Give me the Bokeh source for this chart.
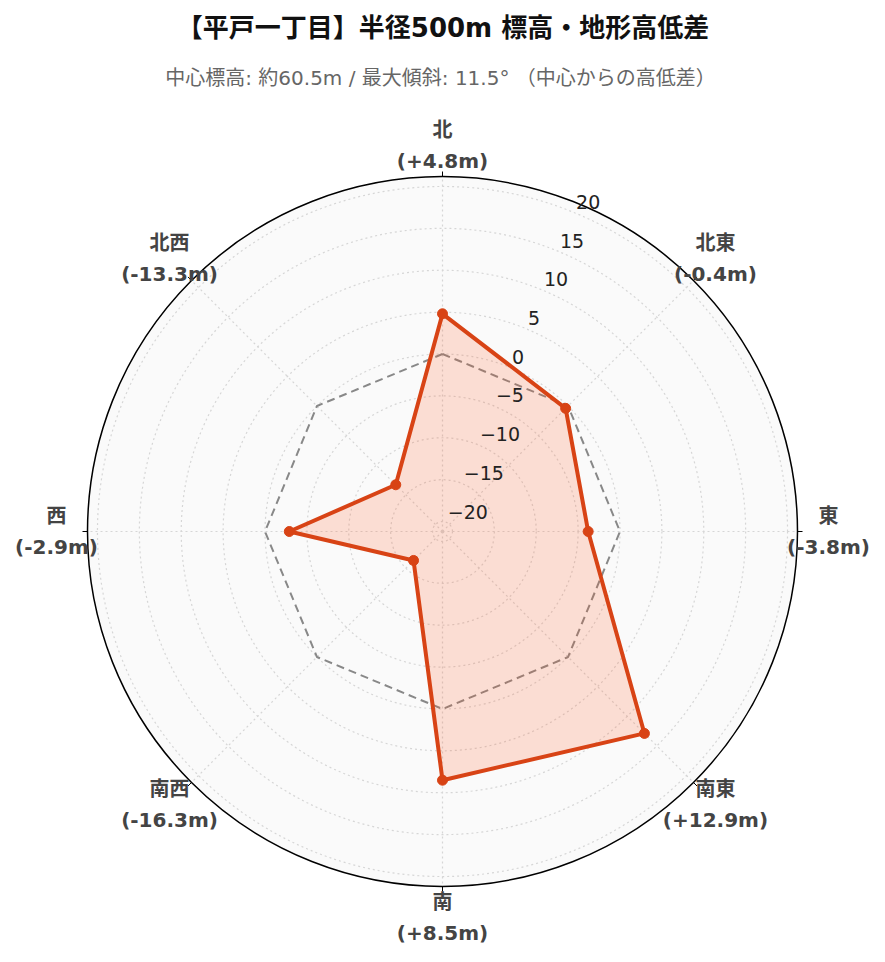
import math
from bokeh.plotting import figure
from bokeh.models import Range1d
from bokeh.core.properties import value
from bokeh.embed import file_html
from bokeh.resources import INLINE

# ---- data ----
directions = ["北", "北東", "東", "南東", "南", "南西", "西", "北西"]
angles_deg = [0, 45, 90, 135, 180, 225, 270, 315]
diffs = [4.8, -0.4, -3.8, 12.9, 8.5, -16.3, -2.9, -13.3]
radial_ticks = [-20, -15, -10, -5, 0, 5, 10, 15, 20]
radial_range = [-21.19, 21.19]
title_text = "【平戸一丁目】半径500m 標高・地形高低差"
subtitle_text = "中心標高: 約60.5m / 最大傾斜: 11.5° （中心からの高低差）"

# ---- geometry (data units = pixels) ----
R = 355.0
W, H = 869, 946
cx_canvas, cy_canvas = 442, 531

def rad(v):
    return (v - radial_range[0]) / (radial_range[1] - radial_range[0]) * R

def pol(r, deg):
    a = math.radians(deg)
    return r * math.sin(a), r * math.cos(a)

FONT = value("'DejaVu Sans', 'Noto Sans CJK JP', sans-serif")

p = figure(width=W, height=H, output_backend="svg", toolbar_location=None,
           x_range=Range1d(-cx_canvas, W - cx_canvas),
           y_range=Range1d(-(H - cy_canvas), cy_canvas),
           x_axis_type=None, y_axis_type=None, min_border=0,
           outline_line_color=None, background_fill_color="white",
           border_fill_color="white")
p.grid.visible = False

# background disk
p.circle([0], [0], radius=R, fill_color="#fafafa", line_color=None)

# circular grid
grid_r = [rad(t) for t in radial_ticks]
p.circle([0] * len(grid_r), [0] * len(grid_r), radius=grid_r, fill_color=None,
         line_color="#d6d6d6", line_width=1.2, line_dash="2 3")

# spokes
sx = [pol(R, a)[0] for a in angles_deg]
sy = [pol(R, a)[1] for a in angles_deg]
p.segment([0] * 8, [0] * 8, sx, sy, line_color="#d6d6d6", line_width=1.2, line_dash="2 3")

# reference (0 m) octagon
ref = [pol(rad(0), a) for a in angles_deg + [angles_deg[0]]]
p.line([q[0] for q in ref], [q[1] for q in ref], line_color="#888888",
       line_width=2, line_dash="8 5")

# data polygon
pts = [pol(rad(v), a) for v, a in zip(diffs, angles_deg)]
xs = [q[0] for q in pts]
ys = [q[1] for q in pts]
p.patch(xs, ys, fill_color="#ff5722", fill_alpha=0.18, line_color=None)
p.line(xs + [xs[0]], ys + [ys[0]], line_color="#d84315", line_width=4, line_join="round")
p.scatter(xs, ys, size=10, fill_color="#d84315", line_color="#d84315")

# outer circle and ticks
p.circle([0], [0], radius=R, fill_color=None, line_color="black", line_width=1.5)
t0 = [pol(R, a) for a in angles_deg]
t1 = [pol(R + 5, a) for a in angles_deg]
p.segment([q[0] for q in t0], [q[1] for q in t0], [q[0] for q in t1], [q[1] for q in t1],
          line_color="black", line_width=1)

# radial tick labels along 22.5 deg
ax = 22.5
ua = (math.sin(math.radians(ax)), math.cos(math.radians(ax)))
up = (math.cos(math.radians(ax)), -math.sin(math.radians(ax)))
lx, ly, lt = [], [], []
for t in radial_ticks:
    al = rad(t) + 10.5
    lx.append(al * ua[0] - 2.7 * up[0])
    ly.append(al * ua[1] - 2.7 * up[1])
    lt.append(str(t).replace("-", "\u2212"))
p.text(lx, ly, text=lt, text_font=FONT, text_font_size="19px", text_color="#222222",
       text_align="left", text_baseline="middle")

# angular labels
D = 386
nx, ny, vx, vy, vt = [], [], [], [], []
for name, a, d in zip(directions, angles_deg, diffs):
    x, y = pol(D, a)
    nx.append(x); ny.append(y + 15.5)
    vx.append(x); vy.append(y - 15.5)
    vt.append(f"({d:+.1f}m)")
p.text(nx, ny, text=directions, text_font=FONT, text_font_size="20px", text_font_style="bold",
       text_color="#444444", text_align="center", text_baseline="middle")
p.text(vx, vy, text=vt, text_font=FONT, text_font_size="20px", text_font_style="bold",
       text_color="#444444", text_align="center", text_baseline="middle")

# title / subtitle
p.text([0.5], [504], text=[title_text], text_font=FONT, text_font_size="26px",
       text_font_style="bold", text_color="#111111", text_align="center", text_baseline="middle")
p.text([-2], [454], text=[subtitle_text], text_font=FONT, text_font_size="20px",
       text_color="#666666", text_align="center", text_baseline="middle")

open("out.html", "w").write(file_html(p, INLINE))
